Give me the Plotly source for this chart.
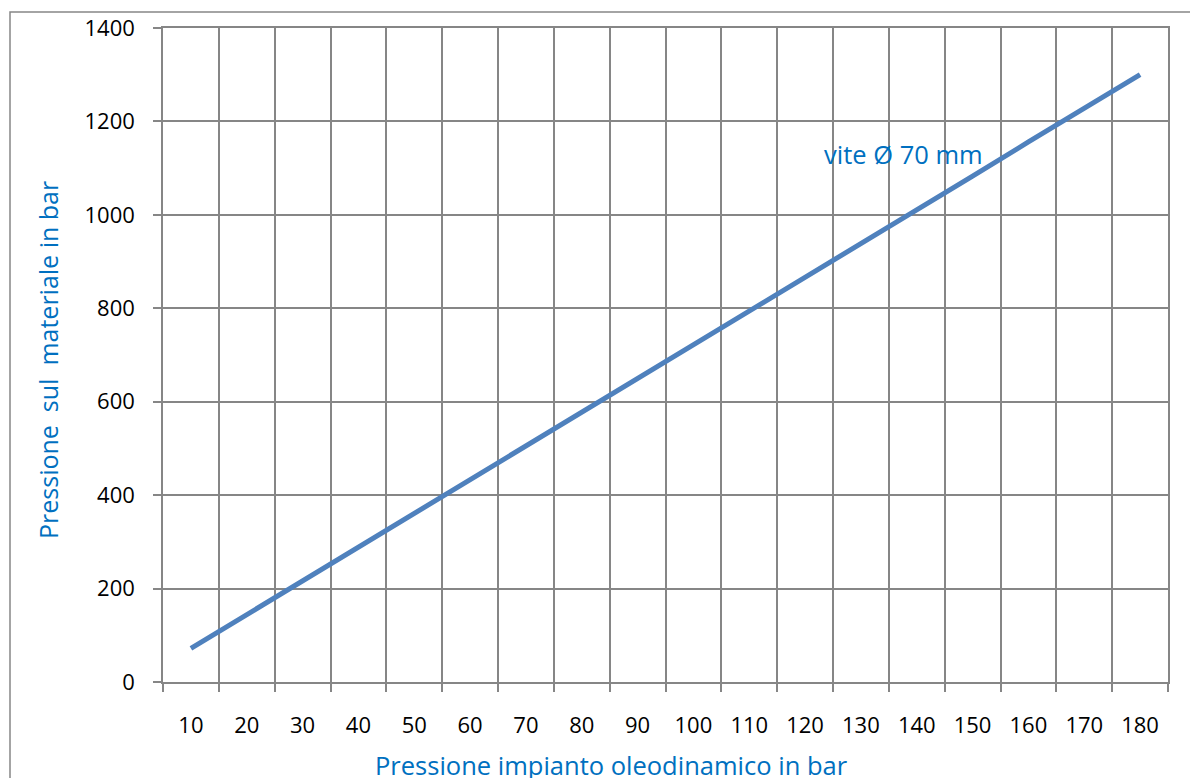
import plotly.graph_objects as go

categories = ["10", "20", "30", "40", "50", "60", "70", "80", "90", "100",
              "110", "120", "130", "140", "150", "160", "170", "180"]
pressione_materiale = [72, 144, 217, 289, 361, 433, 506, 578, 650, 722,
                       794, 867, 939, 1011, 1083, 1156, 1228, 1300]
y_ticks = [0, 200, 400, 600, 800, 1000, 1200, 1400]

FONT = "Open Sans"
GRID = "#868686"
BLUE_TEXT = "#0070C0"

fig = go.Figure()
fig.add_trace(go.Scatter(
    x=categories, y=pressione_materiale, mode="lines",
    line=dict(color="#4F81BD", width=5), showlegend=False, hoverinfo="x+y"))

fig.update_layout(
    width=1190, height=778,
    margin=dict(l=163, r=22, t=24, b=96),
    paper_bgcolor="white", plot_bgcolor="white",
    font=dict(family=FONT, size=22, color="black"),
    xaxis=dict(type="category", range=[-0.5, len(categories) - 0.5],
               tickson="boundaries", ticks="outside", ticklen=8,
               tickwidth=1.5, tickcolor=GRID, showgrid=True, gridcolor=GRID, gridwidth=1.5,
               showline=True, linecolor=GRID, linewidth=1.5, mirror=True,
               tickfont=dict(family=FONT, size=22, color="black"),
               ticklabelstandoff=23, zeroline=False),
    yaxis=dict(range=[0, 1400], tickvals=y_ticks, ticks="outside", ticklen=8,
               tickwidth=1.5, tickcolor=GRID, showgrid=True, gridcolor=GRID, gridwidth=1.5,
               showline=True, linecolor=GRID, linewidth=1.5, mirror=True,
               tickfont=dict(family=FONT, size=22, color="black"),
               ticklabelstandoff=14, zeroline=False),
    shapes=[dict(type="rect", xref="paper", yref="paper",
                 x0=(10 - 163) / 1005, x1=1.2, y0=-0.3, y1=(682 - 8) / 658,
                 line=dict(color=GRID, width=1.5), layer="below")],
    annotations=[
        dict(text="Pressione impianto oleodinamico in bar", xref="paper", yref="paper",
             x=(611 - 163) / 1005, y=(682 - 766) / 658, xanchor="center", yanchor="middle",
             showarrow=False, font=dict(family=FONT, size=25.5, color=BLUE_TEXT)),
        dict(text="Pressione\u00a0\u00a0sul\u00a0\u00a0materiale in bar", xref="paper", yref="paper",
             x=(48 - 163) / 1005, y=(682 - 358) / 658, xanchor="center", yanchor="middle",
             textangle=-90, showarrow=False, font=dict(family=FONT, size=25, color=BLUE_TEXT)),
        dict(text="vite Ø 70 mm", xref="paper", yref="paper",
             x=(822 - 163) / 1005, y=(682 - 151) / 658, xanchor="left", yanchor="middle",
             showarrow=False, font=dict(family=FONT, size=25.5, color=BLUE_TEXT)),
    ],
)

fig.write_html("out.html", config={"displayModeBar": False},
               post_script="document.body.style.margin='0';document.body.style.overflow='hidden';")
